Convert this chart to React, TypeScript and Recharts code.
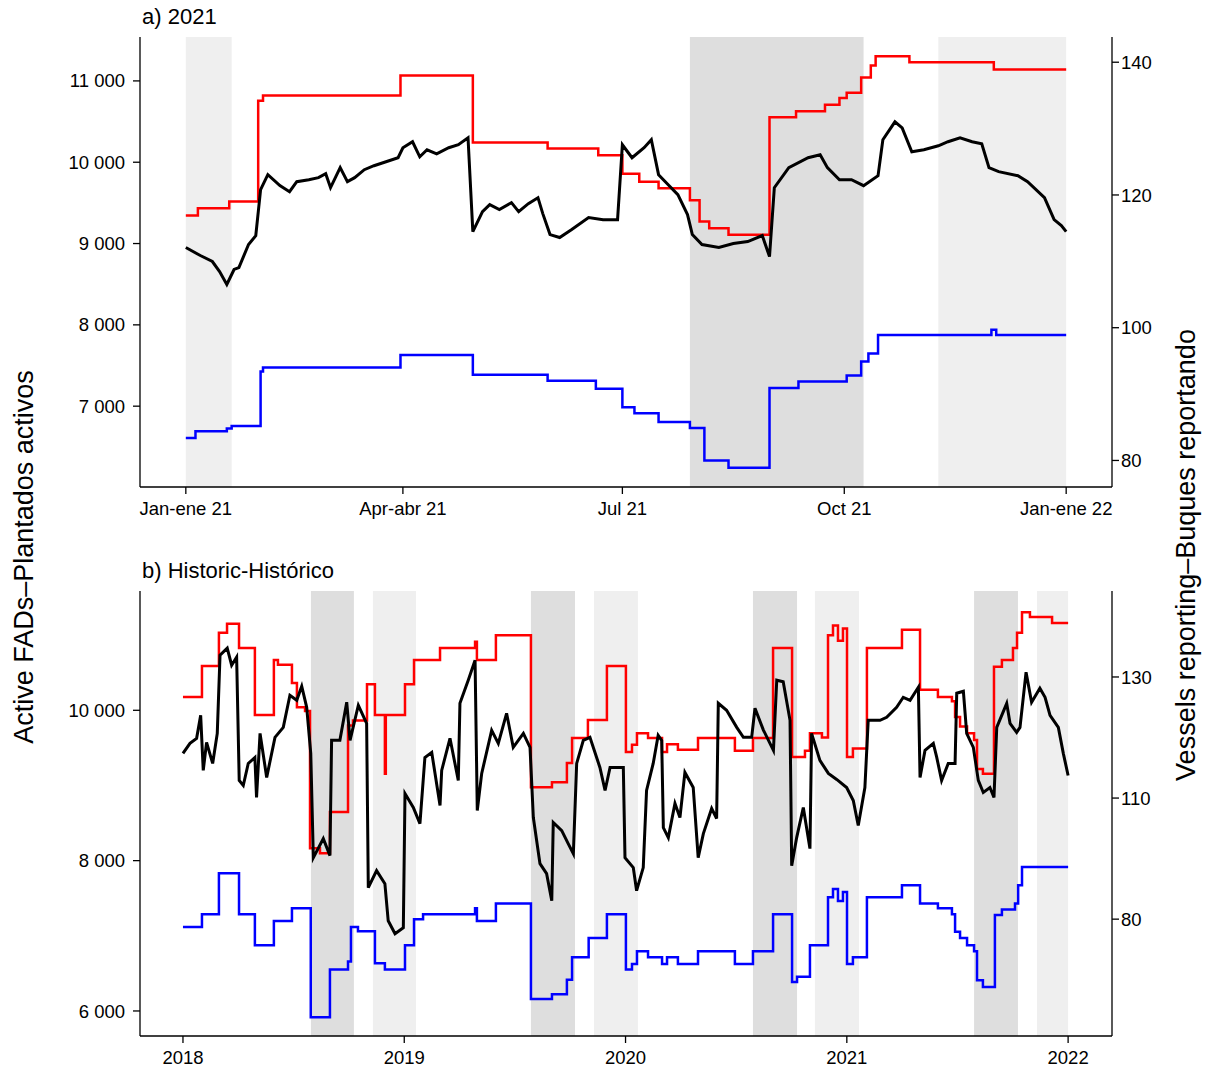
import React from 'react';
import { LineChart, Line, XAxis, YAxis, ReferenceArea } from 'recharts';

// Panel a: x = day of 2021 (0 = 1 Jan 2021)
const aDayTicks = [0, 90, 181, 273, 365];
const aDayLabels = ['Jan-ene 21', 'Apr-abr 21', 'Jul 21', 'Oct 21', 'Jan-ene 22'];
const aFadTicks = [7000, 8000, 9000, 10000, 11000];
const aVesselTicks = [80, 100, 120, 140];

const aFads: [number, number][] = [
  [0, 8951], [6, 8853], [11, 8779], [14, 8656], [17, 8497], [20, 8681], [22, 8705], [26, 8988], [29, 9098],
  [31, 9663], [34, 9847], [39, 9712], [43, 9638], [46, 9761], [51, 9785], [55, 9810], [58, 9859], [60, 9687],
  [64, 9933], [67, 9761], [70, 9810], [74, 9908], [78, 9957], [83, 10006], [88, 10055], [90, 10178], [94, 10252],
  [97, 10067], [100, 10153], [104, 10104], [109, 10178], [113, 10215], [117, 10301], [119, 9147], [123, 9393],
  [126, 9479], [130, 9417], [135, 9503], [138, 9393], [142, 9491], [146, 9564], [148, 9368], [151, 9110],
  [155, 9074], [160, 9172], [167, 9319], [173, 9294], [179, 9294], [181, 10215], [185, 10055], [190, 10178],
  [193, 10276], [196, 9847], [200, 9724], [204, 9601], [208, 9356], [210, 9110], [214, 8988], [221, 8951],
  [227, 9000], [233, 9024], [239, 9098], [242, 8840], [244, 9687], [250, 9933], [258, 10055], [263, 10092],
  [266, 9933], [271, 9785], [276, 9785], [281, 9712], [287, 9834], [289, 10276], [294, 10497], [297, 10423],
  [301, 10129], [306, 10153], [312, 10202], [316, 10252], [321, 10301], [326, 10252], [330, 10227], [333, 9933],
  [337, 9884], [345, 9834], [349, 9761], [356, 9564], [360, 9294], [363, 9221], [365, 9147],
];
const aRed: [number, number][] = [
  [0, 116.9], [5, 118], [18, 119], [30, 134.2], [32, 135], [89, 138], [119, 127.9], [150, 127], [171, 126],
  [181, 123.2], [188, 122], [196, 121], [209, 119.2], [213, 116], [217, 115], [225, 114], [242, 131.7],
  [253, 132.6], [265, 133.6], [271, 134.6], [274, 135.4], [280, 137.7], [284, 139.5], [286, 140.9], [300, 140],
  [335, 138.9], [365, 138.9],
];
const aBlue: [number, number][] = [
  [0, 83.4], [4, 84.4], [17, 84.8], [19, 85.2], [31, 93.4], [32, 94], [89, 95.9], [119, 92.9], [150, 92],
  [170, 90.8], [181, 88], [186, 87.1], [196, 85.8], [209, 84.9], [215, 80], [225, 78.9], [242, 90.9],
  [254, 91.9], [274, 92.8], [280, 94.9], [283, 96.1], [287, 98.9], [334, 99.7], [336, 98.9], [365, 98.9],
];
const aLight: [number, number][] = [[0, 19], [312, 365]];
const aDark: [number, number][] = [[209, 281]];

// Panel b: x = months since Jan 2018
const bMonthTicks = [0, 12, 24, 36, 48];
const bYearLabels = ['2018', '2019', '2020', '2021', '2022'];
const bFadTicks = [6000, 8000, 10000];
const bVesselTicks = [90, 110, 130];
const bVesselLabels: Record<number, string> = { 90: '80', 110: '110', 130: '130' };

const bFads: [number, number][] = [
  [0, 9427], [0.38, 9560], [0.74, 9627], [0.96, 9933], [1.1, 9200], [1.28, 9573], [1.61, 9293], [1.86, 9693],
  [2.01, 10733], [2.4, 10827], [2.64, 10600], [2.91, 10707], [3.05, 9067], [3.27, 9000], [3.54, 9293],
  [3.9, 9373], [3.99, 8840], [4.18, 9693], [4.54, 9107], [4.99, 9640], [5.44, 9773], [5.8, 10200],
  [6.17, 10133], [6.44, 10320], [6.71, 10040], [6.93, 9427], [7.07, 8040], [7.61, 8293], [7.97, 8067],
  [8.06, 9600], [8.51, 9600], [8.88, 10107], [9.06, 9600], [9.51, 10067], [9.96, 9827], [10.05, 7640],
  [10.5, 7867], [10.95, 7693], [11.13, 7200], [11.5, 7027], [11.95, 7107], [12.04, 8893], [12.49, 8707],
  [12.85, 8493], [13.12, 9373], [13.49, 9440], [13.94, 8733], [14.03, 9200], [14.48, 9627], [14.93, 9067],
  [15.02, 10093], [15.47, 10400], [15.84, 10667], [15.96, 8667], [16.2, 9160], [16.74, 9733], [17.1, 9560],
  [17.55, 9960], [17.91, 9507], [18.46, 9693], [18.82, 9507], [19.0, 8573], [19.36, 7960], [19.72, 7827],
  [20.0, 7467], [20.08, 8507], [20.54, 8400], [20.89, 8227], [21.17, 8093], [21.35, 9293], [21.71, 9600],
  [22.07, 9640], [22.61, 9240], [22.89, 8933], [23.16, 9240], [23.88, 9240], [23.97, 8040], [24.42, 7907],
  [24.6, 7600], [24.96, 7907], [25.14, 8933], [25.5, 9293], [25.77, 9667], [25.96, 9600], [26.05, 8440],
  [26.32, 8307], [26.68, 8760], [26.95, 8573], [27.22, 9173], [27.67, 8973], [27.94, 8040], [28.22, 8360],
  [28.67, 8693], [28.94, 8560], [29.03, 10093], [29.48, 10000], [30.03, 9773], [30.39, 9640], [30.84, 9640],
  [31.02, 10027], [31.47, 9740], [32.02, 9467], [32.2, 10400], [32.55, 10380], [32.92, 9867], [33.01, 7933],
  [33.28, 8307], [33.64, 8707], [34.0, 8160], [34.09, 9693], [34.54, 9333], [35.0, 9160], [35.45, 9080],
  [35.99, 8973], [36.35, 8800], [36.62, 8467], [36.98, 8973], [37.16, 9867], [37.8, 9867], [38.16, 9907],
  [38.7, 10040], [39.06, 10173], [39.43, 10133], [39.88, 10307], [39.97, 9107], [40.24, 9467], [40.69, 9560],
  [40.87, 9380], [41.14, 9067], [41.5, 9293], [41.87, 9293], [41.96, 10227], [42.32, 10253], [42.5, 9693],
  [42.86, 9507], [43.13, 9067], [43.4, 8907], [43.76, 8973], [43.98, 8840], [44.13, 9773], [44.67, 10093],
  [44.85, 9827], [45.21, 9707], [45.39, 9773], [45.72, 10507], [46.02, 10107], [46.47, 10293], [46.75, 10173],
  [47.02, 9933], [47.47, 9773], [47.74, 9427], [48.0, 9133],
];
const bRed: [number, number][] = [
  [0, 126.7], [1.03, 131.8], [1.95, 137.3], [2.39, 138.8], [3.04, 134.8], [3.9, 123.7], [4.93, 132.8],
  [5.15, 132], [5.91, 129], [6.18, 125], [6.62, 124.4], [6.89, 101.7], [7.43, 100.9], [7.97, 107.7],
  [8.95, 122], [9.22, 122.8], [9.98, 128.8], [10.41, 123.7], [10.95, 114], [11.0, 123.7], [12.04, 128.8],
  [12.53, 132.8], [13.94, 134.8], [15.84, 135.8], [15.94, 132.8], [16.97, 136.9], [18.87, 111.8],
  [20.01, 112.6], [20.82, 115.8], [21.1, 119.9], [21.96, 122.9], [22.99, 131.8], [24.02, 117.6],
  [24.35, 118.8], [24.62, 120.7], [25.22, 119.9], [25.98, 117.6], [26.25, 118.9], [26.84, 118],
  [27.93, 119.9], [29.93, 117.8], [30.91, 119.9], [32.0, 134.8], [33.03, 116.8], [33.73, 117.8],
  [34.0, 120.7], [34.65, 120], [34.98, 136.9], [35.25, 138.5], [35.52, 136], [35.79, 138], [36.01, 116.8],
  [36.33, 118.2], [37.09, 134.8], [38.99, 137.8], [39.97, 127.9], [40.94, 126.7], [41.7, 126],
  [41.87, 123.4], [42.14, 121.8], [42.52, 120.7], [42.9, 119.6], [43.06, 114.8], [43.38, 114],
  [43.98, 131.7], [44.41, 132.8], [45.01, 134.8], [45.23, 137.3], [45.5, 140.7], [45.93, 139.9],
  [47.13, 138.9], [48.0, 138.9],
];
const bBlue: [number, number][] = [
  [0, 88.7], [1.03, 90.8], [1.95, 97.6], [3.04, 90.8], [3.9, 85.7], [4.93, 89.7], [5.91, 91.8], [6.93, 73.8],
  [7.97, 81.7], [8.95, 83], [9.11, 88.7], [9.49, 88], [10.41, 82.7], [10.95, 81.7], [12.04, 85.7],
  [12.53, 90], [13.02, 90.8], [15.84, 91.8], [15.94, 89.7], [16.97, 92.6], [18.87, 76.8], [20.01, 77.6],
  [20.82, 80], [21.1, 83.7], [22.0, 86.9], [22.99, 90.8], [24.02, 81.7], [24.35, 82.6], [24.62, 84.7],
  [25.22, 83.7], [25.98, 82.6], [26.25, 83.7], [26.84, 82.6], [27.93, 84.7], [29.93, 82.6], [30.91, 84.7],
  [32.0, 90.8], [33.03, 79.6], [33.3, 80.5], [34.0, 85.7], [34.98, 93.6], [35.25, 95], [35.52, 93],
  [35.79, 94.5], [36.01, 82.6], [36.33, 83.7], [37.09, 93.6], [38.99, 95.6], [39.97, 92.6], [40.94, 91.8],
  [41.7, 90.8], [41.87, 87.9], [42.14, 86.9], [42.52, 85.7], [42.9, 84.7], [43.06, 79.9], [43.38, 78.8],
  [44.03, 90.7], [44.41, 91.6], [45.12, 92.6], [45.29, 95.6], [45.5, 98.6], [48.0, 98.6],
];
const bLight: [number, number][] = [[10.3, 12.64], [22.29, 24.67], [34.27, 36.66], [46.31, 48]];
const bDark: [number, number][] = [[6.94, 9.27], [18.87, 21.26], [30.91, 33.3], [42.9, 45.28]];

const FONT = '"Liberation Sans", Arial, sans-serif';
const toPts = (arr: [number, number][]) => arr.map(([x, y]) => ({ x, y }));
const fmtK = (v: number) => {
  const s = String(v);
  return s.length > 3 ? s.slice(0, s.length - 3) + ' ' + s.slice(-3) : s;
};
const tickStyle = { fontSize: 18.5, fill: '#000', fontFamily: FONT };
const axisLine = { stroke: '#000', strokeWidth: 1.3 };

interface PanelProps {
  top: number;
  height: number;
  marginTop: number;
  marginBottom: number;
  xDomain: [number, number];
  xTicks: number[];
  xLabels: string[];
  leftDomain: [number, number];
  leftTicks: number[];
  rightDomain: [number, number];
  rightTicks: number[];
  rightFmt: (v: number) => string;
  fads: [number, number][];
  red: [number, number][];
  blue: [number, number][];
  light: [number, number][];
  dark: [number, number][];
}

const Panel: React.FC<PanelProps> = (p) => (
  <div style={{ position: 'absolute', left: 0, top: p.top }}>
    <LineChart width={1205} height={p.height} margin={{ top: p.marginTop, right: 33, left: 80, bottom: p.marginBottom }}>
      <XAxis
        xAxisId="b" type="number" dataKey="x" domain={p.xDomain} ticks={p.xTicks} allowDataOverflow
        tickFormatter={(v: number) => p.xLabels[p.xTicks.indexOf(v)] ?? ''}
        tick={tickStyle} tickLine={axisLine} tickSize={7} tickMargin={8} axisLine={axisLine} height={30} interval={0}
      />
      <XAxis xAxisId="t" orientation="top" type="number" dataKey="x" domain={p.xDomain} allowDataOverflow
        tick={false} tickLine={false} axisLine={axisLine} height={0} />
      <YAxis
        yAxisId="l" type="number" domain={p.leftDomain} ticks={p.leftTicks} allowDataOverflow
        tickFormatter={fmtK} tick={tickStyle} tickLine={axisLine} tickSize={7} tickMargin={8} axisLine={axisLine} width={60} interval={0}
      />
      <YAxis
        yAxisId="r" orientation="right" type="number" domain={p.rightDomain} ticks={p.rightTicks} allowDataOverflow
        tickFormatter={p.rightFmt} tick={tickStyle} tickLine={axisLine} tickSize={7} tickMargin={2} axisLine={axisLine} width={60} interval={0}
      />
      {p.light.map(([a, b], i) => (
        <ReferenceArea key={'l' + i} xAxisId="b" yAxisId="l" x1={a} x2={b} y1={p.leftDomain[0]} y2={p.leftDomain[1]} fill="#efefef" fillOpacity={1} stroke="none" />
      ))}
      {p.dark.map(([a, b], i) => (
        <ReferenceArea key={'d' + i} xAxisId="b" yAxisId="l" x1={a} x2={b} y1={p.leftDomain[0]} y2={p.leftDomain[1]} fill="#dedede" fillOpacity={1} stroke="none" />
      ))}
      <Line xAxisId="b" yAxisId="r" data={toPts(p.red)} dataKey="y" type="stepAfter" stroke="#ff0000" strokeWidth={2.5} dot={false} isAnimationActive={false} />
      <Line xAxisId="b" yAxisId="r" data={toPts(p.blue)} dataKey="y" type="stepAfter" stroke="#0000ff" strokeWidth={2.5} dot={false} isAnimationActive={false} />
      <Line xAxisId="b" yAxisId="l" data={toPts(p.fads)} dataKey="y" type="linear" stroke="#000" strokeWidth={3} dot={false} isAnimationActive={false} />
    </LineChart>
  </div>
);

const App: React.FC = () => (
  <div style={{ position: 'absolute', left: 0, top: 0, width: 1205, height: 1076, background: '#fff', fontFamily: FONT }}>
    <Panel
      top={0} height={540} marginTop={37} marginBottom={23}
      xDomain={[-19, 384]} xTicks={aDayTicks} xLabels={aDayLabels}
      leftDomain={[6006, 11540]} leftTicks={aFadTicks}
      rightDomain={[76, 143.8]} rightTicks={aVesselTicks} rightFmt={(v) => String(v)}
      fads={aFads} red={aRed} blue={aBlue} light={aLight} dark={aDark}
    />
    <Panel
      top={540} height={536} marginTop={51} marginBottom={10}
      xDomain={[-2.33, 50.38]} xTicks={bMonthTicks} xLabels={bYearLabels}
      leftDomain={[5667, 11587]} leftTicks={bFadTicks}
      rightDomain={[70.7, 144.2]} rightTicks={bVesselTicks} rightFmt={(v) => bVesselLabels[v] ?? String(v)}
      fads={bFads} red={bRed} blue={bBlue} light={bLight} dark={bDark}
    />
    <div style={{ position: 'absolute', left: 142, top: 4, fontSize: 22 }}>a) 2021</div>
    <div style={{ position: 'absolute', left: 142, top: 558, fontSize: 22 }}>b) Historic-Histórico</div>
    <div style={{ position: 'absolute', left: 24, top: 557, transform: 'translate(-50%, -50%) rotate(-90deg)', whiteSpace: 'nowrap', fontSize: 27 }}>
      Active FADs–Plantados activos
    </div>
    <div style={{ position: 'absolute', left: 1186, top: 555, transform: 'translate(-50%, -50%) rotate(-90deg)', whiteSpace: 'nowrap', fontSize: 27 }}>
      Vessels reporting–Buques reportando
    </div>
  </div>
);

export default App;
